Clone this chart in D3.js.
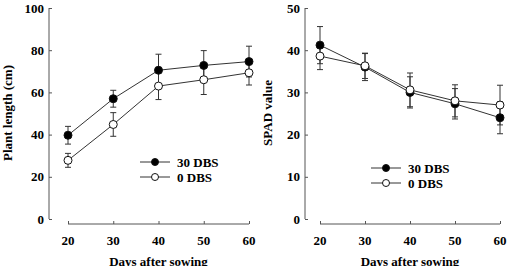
<!DOCTYPE html>
<html>
<head>
<meta charset="utf-8">
<script src="https://cdn.jsdelivr.net/npm/d3@7"></script>
<style>
  body { margin: 0; background: #fff; }
  svg text { font-family: "Liberation Serif", "Times New Roman", serif; font-weight: bold; }
</style>
</head>
<body>
<svg id="chart" width="508" height="266"></svg>
<script>
const days = [20, 30, 40, 50, 60];

// plant length (cm)
const length30 = [39.7, 57, 70.5, 72.8, 74.6];
const length30Err = [4.2, 4.0, 7.6, 7.0, 7.3];
const length0 = [27.8, 44.8, 63, 66, 69.3];
const length0Err = [3.3, 5.6, 6.4, 7.0, 5.8];

// SPAD value
const spad30 = [41.2, 36, 30, 27.3, 24];
const spad30Err = [4.4, 3.2, 3.7, 3.6, 3.8];
const spad0 = [38.6, 36.3, 30.6, 28, 27];
const spad0Err = [3.2, 3.0, 4.0, 3.8, 4.7];

const svg = d3.select("#chart");
const lineCol = "#333";
const axisCol = "#555";

function drawPanel(opts) {
  const g = svg.append("g");
  const y = d3.scaleLinear().domain([0, opts.ymax]).range([219, 8]);
  const x = d3.scaleLinear().domain([20, 60]).range([opts.x0, opts.x1]);

  // y axis
  const yAxis = g.append("g")
    .attr("transform", `translate(${opts.yAxisX},0)`)
    .call(d3.axisRight(y).tickValues(d3.range(0, opts.ymax + 1, opts.ymax / 5)).tickSize(3).tickFormat(""));
  yAxis.select(".domain").attr("stroke", axisCol).attr("d", `M0,${y(opts.ymax)}V${y(0)}`);
  yAxis.selectAll(".tick line").attr("stroke", axisCol);
  g.selectAll(".ylab").data(d3.range(0, opts.ymax + 1, opts.ymax / 5)).join("text")
    .attr("x", opts.yAxisX - 5).attr("y", d => y(d)).attr("dy", "0.35em")
    .attr("text-anchor", "end").attr("font-size", 13).text(d => d);

  // x axis
  const xAxis = g.append("g")
    .attr("transform", `translate(0,224)`)
    .call(d3.axisTop(x).tickValues(days).tickSize(3).tickFormat(""));
  xAxis.select(".domain").attr("stroke", axisCol).attr("d", `M${x(20)},0H${x(60)}`);
  xAxis.selectAll(".tick line").attr("stroke", axisCol);
  g.selectAll(".xlab").data(days).join("text")
    .attr("x", d => x(d)).attr("y", 240).attr("dy", "0.35em")
    .attr("text-anchor", "middle").attr("font-size", 13).text(d => d);

  g.append("text").attr("x", (x(20) + x(60)) / 2).attr("y", 266)
    .attr("text-anchor", "middle").attr("font-size", 13).text("Days after sowing");
  g.append("text").attr("transform", `translate(${opts.titleX},113) rotate(-90)`)
    .attr("text-anchor", "middle").attr("font-size", 13).text(opts.title);

  const line = d3.line().x((d, i) => x(days[i])).y(d => y(d));
  opts.series.forEach(s => {
    const eg = g.append("g");
    s.vals.forEach((v, i) => {
      const cx = x(days[i]), lo = y(v - s.err[i]), hi = y(v + s.err[i]);
      eg.append("line").attr("x1", cx).attr("x2", cx).attr("y1", lo).attr("y2", hi).attr("stroke", lineCol);
      [lo, hi].forEach(yy => eg.append("line").attr("x1", cx - 3).attr("x2", cx + 3)
        .attr("y1", yy).attr("y2", yy).attr("stroke", lineCol));
    });
  });
  opts.series.forEach(s => {
    g.append("path").datum(s.vals).attr("d", line).attr("fill", "none").attr("stroke", lineCol).attr("stroke-width", 1);
  });
  opts.series.forEach(s => {
    g.selectAll(null).data(s.vals).join("circle")
      .attr("cx", (d, i) => x(days[i])).attr("cy", d => y(d)).attr("r", 4)
      .attr("fill", s.fill).attr("stroke", "#111").attr("stroke-width", 1);
  });

  // legend
  opts.series.forEach((s, i) => {
    const ly = opts.legY + i * 15;
    g.append("line").attr("x1", opts.legX).attr("x2", opts.legX + 30).attr("y1", ly).attr("y2", ly).attr("stroke", lineCol);
    g.append("circle").attr("cx", opts.legX + 15).attr("cy", ly).attr("r", 3.5)
      .attr("fill", s.fill).attr("stroke", "#111");
    g.append("text").attr("x", opts.legX + 37).attr("y", ly).attr("dy", "0.35em")
      .attr("font-size", 13).text(s.name);
  });
}

drawPanel({
  ymax: 100, x0: 68, x1: 249, yAxisX: 49, titleX: 12, title: "Plant length (cm)",
  legX: 140, legY: 162,
  series: [
    { name: "30 DBS", vals: length30, err: length30Err, fill: "#000" },
    { name: "0 DBS", vals: length0, err: length0Err, fill: "#fff" }
  ]
});

drawPanel({
  ymax: 50, x0: 320, x1: 500, yAxisX: 305, titleX: 272, title: "SPAD value",
  legX: 371, legY: 168,
  series: [
    { name: "30 DBS", vals: spad30, err: spad30Err, fill: "#000" },
    { name: "0 DBS", vals: spad0, err: spad0Err, fill: "#fff" }
  ]
});
</script>
</body>
</html>
